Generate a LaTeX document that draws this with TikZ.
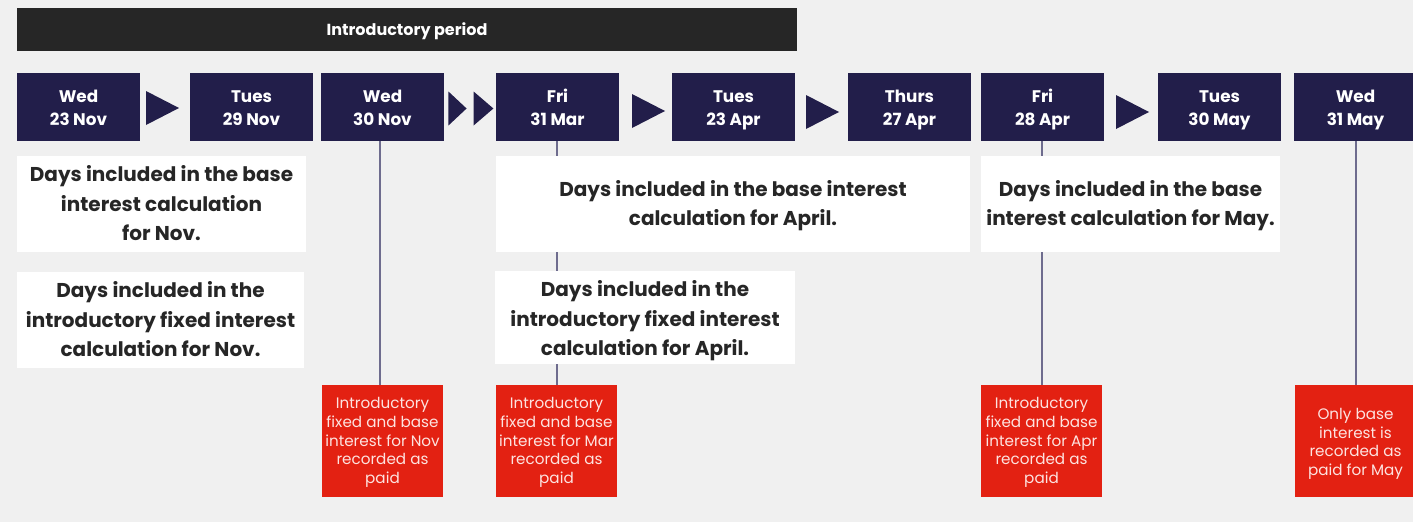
\documentclass[tikz,border=0pt]{standalone}
\usepackage{fontspec}
\setmainfont{Poppins}
\usetikzlibrary{positioning, calc}
\definecolor{datenavy}{HTML}{221E4A}
\definecolor{barblack}{HTML}{262626}
\definecolor{paidred}{HTML}{E32112}
\definecolor{stemgrey}{HTML}{6E6C8E}
\definecolor{pagegrey}{HTML}{F0F0F0}
\definecolor{inktext}{HTML}{262626}
\definecolor{paidtext}{HTML}{FDE3E0}

\tikzset{
  % text height fixes where the lines sit in each box
  datebox/.style={fill=datenavy, text=white, minimum width=123pt, minimum height=68pt, inner sep=0pt, align=center,
    font=\bfseries\fontsize{16.8}{23}\selectfont, text height=40pt, text depth=4pt},
  daysbox/.style={fill=white, text=inktext, minimum height=96pt, inner sep=0pt, align=center,
    font=\bfseries\fontsize{20}{29.5}\selectfont, text height=#1, text depth=6pt},
  daysbox/.default=79pt,
  paidbox/.style={fill=paidred, text=paidtext, minimum width=121pt, minimum height=112pt, inner sep=0pt, align=center,
    font=\fontsize{15.2}{18.6}\selectfont, text height=#1, text depth=4.5pt},
  paidbox/.default=89pt,
  stem/.style={draw=stemgrey, line width=2pt},
  playtri/.pic={\fill[datenavy] (-16.5,-17) -- (16.5,0) -- (-16.5,17) -- cycle;},
}

\begin{document}
\begin{tikzpicture}[x=1pt, y=-1pt]
    % Page
    \fill[pagegrey] (0,0) rectangle (1413,522);
    \clip (0,0) rectangle (1413,522);

    % Introductory period bar
    \node[fill=barblack, text=white, minimum width=780pt, minimum height=43pt, inner sep=0pt,
      font=\bfseries\fontsize{16}{18}\selectfont, text height=15.5pt, text depth=4pt] (intro) at (407,29.5) {Introductory period};

    % Dates
    \node[datebox] (d1) at (78.5,107) {Wed\\23 Nov};
    \node[datebox] (d2) at (251.5,107) {Tues\\29 Nov};
    \node[datebox] (d3) at (382.5,107) {Wed\\30 Nov};
    \node[datebox] (d4) at (557.5,107) {Fri\\31 Mar};
    \node[datebox] (d5) at (733.5,107) {Tues\\23 Apr};
    \node[datebox] (d6) at (909.5,107) {Thurs\\27 Apr};
    \node[datebox] (d7) at (1042.5,107) {Fri\\28 Apr};
    \node[datebox] (d8) at (1219.5,107) {Tues\\30 May};
    \node[datebox] (d9) at (1355.5,107) {Wed\\31 May};

    % Play marks between dates
    \pic at (162.5,108) {playtri};
    \pic[xscale=0.55] at (457.5,108.5) {playtri};
    \pic[xscale=0.6] at (483.5,108.5) {playtri};
    \pic at (648.5,111) {playtri};
    \pic at (822.5,112) {playtri};
    \pic at (1132.5,112) {playtri};

    % Paid notes
    \node[paidbox] (r1) at (382.5,441) {Introductory\\fixed and base\\interest for Nov\\recorded as\\paid};
    \node[paidbox] (r2) at (556.5,441) {Introductory\\fixed and base\\interest for Mar\\recorded as\\paid};
    \node[paidbox] (r3) at (1041.5,441) {Introductory\\fixed and base\\interest for Apr\\recorded as\\paid};
    \node[paidbox=73pt] (r4) at (1355.5,441) {Only base\\interest is\\recorded as\\paid for May};

    % Stems
    \draw[stem] ([xshift=-2.5pt]r1.north |- d3.south) -- ([xshift=-2.5pt]r1.north);
    \draw[stem] (r2.north |- d4.south) -- (r2.north);
    \draw[stem] (r3.north |- d7.south) -- (r3.north);
    \draw[stem] (r4.north |- d9.south) -- (r4.north);

    % Days included
    \node[daysbox, minimum width=289pt] (basenov) at (161.5,204) {Days included in the base\\interest calculation\\for Nov.};
    \node[daysbox, minimum width=287pt] (fixnov) at (160.5,320) {Days included in the\\introductory fixed interest\\calculation for Nov.};
    \node[daysbox=49.5pt, minimum width=474pt] (baseapr) at (733,204) {Days included in the base interest\\calculation for April.};
    \node[daysbox=82pt, minimum width=300pt, minimum height=93pt] (fixapr) at (645,317.5) {Days included in the\\introductory fixed interest\\calculation for April.};
    \node[daysbox=49.5pt, minimum width=299pt] (basemay) at (1130.5,204) {Days included in the base\\interest calculation for May.};
\end{tikzpicture}
\end{document}
